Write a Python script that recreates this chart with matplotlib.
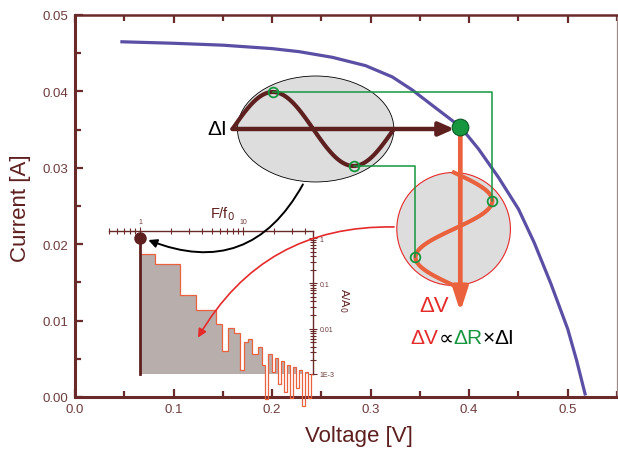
import numpy as np
import matplotlib.pyplot as plt
from matplotlib.patches import Ellipse, FancyArrowPatch
from matplotlib.ticker import NullFormatter

plt.rcParams['font.family'] = ['Liberation Sans', 'DejaVu Sans']

# I-V curve of the cell
voltage = [0.046, 0.10, 0.15, 0.20, 0.2275, 0.2612, 0.2949, 0.3219, 0.3421, 0.3623,
           0.391, 0.4095, 0.4297, 0.45, 0.466, 0.483, 0.50, 0.509, 0.518]
current = [0.0465, 0.0463, 0.04605, 0.0456, 0.0452, 0.04446, 0.04337, 0.0419, 0.0402, 0.0382,
           0.03538, 0.03246, 0.02875, 0.0246, 0.0202, 0.0148, 0.0089, 0.0048, 0.0002]
op_index = 10  # working point

# spectrum of the response, A/A0 vs F/f0
freq_edges = [1.0, 1.4, 2.45, 3.5, 5.47, 6.2, 7.2, 8.2, 9.3, 10.3,
              11.3, 12.2, 13.9, 15.2, 16.3, 17.6, 19.0, 20.5, 21.9, 23.4,
              25.0, 26.7, 28.5, 30.5, 32.6, 34.9, 37.3, 39.9, 42.6, 45.6, 47.8]
amp = [0.44, 0.27, 0.055, 0.026, 0.0126, 0.0032, 0.0102, 0.0079, 0.0012, 0.005,
       0.0058, 0.0027, 0.004, 0.0016, 0.00028, 0.0028, 0.0011, 0.0022, 0.0006, 0.0019,
       0.0004, 0.0016, 0.0003, 0.0014, 0.0005, 0.0012, 0.0002, 0.0011, 0.0003, 0.0010]
fund_freq = 1.0
fund_amp = 1.0

xticks = [0.0, 0.1, 0.2, 0.3, 0.4, 0.5]
yticks = [0.00, 0.01, 0.02, 0.03, 0.04, 0.05]

maroon = '#5e1f1f'
axcol = '#6a2a2a'
tickcol = '#6e3c3c'
green = '#16963f'
red = '#e52a2a'
orange = '#e9613d'
blue = '#5a4fa5'
grey = '#dddddd'

fig = plt.figure(figsize=(6.18, 4.52), dpi=100)
ax = fig.add_axes([75/618, 54/452, 542/618, 382/452])
ax.set_xlim(0, 0.548)
ax.set_ylim(0, 0.05)

ax.plot(voltage, current, color=blue, lw=2.3, solid_capstyle='butt', zorder=2)

ax.set_xticks(xticks)
ax.set_xticks([x + 0.05 for x in xticks], minor=True)
ax.set_yticks(yticks)
ax.set_yticks([y + 0.005 for y in yticks[:-1]], minor=True)
ax.xaxis.set_major_formatter('{x:.1f}')
ax.yaxis.set_major_formatter('{x:.2f}')
ax.tick_params(which='both', direction='in', top=True, right=False, width=1.6,
               color=axcol, labelcolor=tickcol, labelsize=9.5)
ax.tick_params(which='major', length=6)
ax.tick_params(which='minor', length=4)
ax.tick_params(axis='y', pad=5)
ax.tick_params(axis='x', pad=4)
for s in ['left', 'bottom']:
    ax.spines[s].set_linewidth(2.2)
    ax.spines[s].set_color(axcol)
ax.spines['top'].set_linewidth(1.8)
ax.spines['top'].set_color(axcol)
ax.spines['right'].set_linewidth(0.9)
ax.spines['right'].set_color('#a08a8a')

fig.text(359/618, 1 - 437/452, 'Voltage [V]', ha='center', va='center',
         fontsize=16, color=maroon)
fig.text(21/618, 1 - 208/452, 'Current [A]', ha='center', va='center',
         rotation=90, fontsize=16, color=maroon)

# ---- current modulation (ellipse) ----
ex, ey, ew, eh = 0.2442, 0.03508, 0.1587, 0.01387
ax.add_patch(Ellipse((ex, ey), ew, eh, fc=grey, ec='black', lw=0.6, zorder=3))
t = np.linspace(0, 1, 120)
s_x0, s_len, s_amp = 0.1598, 0.1638, 0.00484
sx = s_x0 + s_len * t
sy = ey + s_amp * np.sin(2 * np.pi * t)
ax.plot(sx, sy, color=maroon, lw=3, zorder=4, solid_capstyle='round')

vop, iop = voltage[op_index], current[op_index]
ax.annotate('', xy=(vop - 0.006, ey), xytext=(s_x0, ey),
            arrowprops=dict(arrowstyle='-|>,head_length=0.9,head_width=0.4',
                            mutation_scale=10, lw=3.2, color=maroon,
                            shrinkA=0, shrinkB=0), zorder=5)
ax.text(s_x0 - 0.005, ey, 'ΔI', ha='right', va='center', fontsize=15, color='black')

# ---- voltage response (circle) ----
cx, cy, cw, ch = 0.3842, 0.02199, 0.1153, 0.01479
ax.add_patch(Ellipse((cx, cy), cw, ch, fc=grey, ec=red, lw=0.8, zorder=3))
v_top, v_len, v_amp, v_x0 = cy + ch / 2, ch, 0.039, 0.3845
vy = v_top - v_len * t
vx = v_x0 + v_amp * np.sin(2 * np.pi * t)
ax.plot(vx, vy, color=orange, lw=3, zorder=4)

ax.annotate('', xy=(vop, 0.01113), xytext=(vop, iop),
            arrowprops=dict(arrowstyle='-|>,head_length=1.4,head_width=0.45',
                            mutation_scale=10, lw=3.4, color=orange,
                            shrinkA=0, shrinkB=0), zorder=5)

# green guide lines between the two sines
peak = (s_x0 + s_len * 0.25, ey + s_amp)
trough = (s_x0 + s_len * 0.75, ey - s_amp)
right_pt = (v_x0 + v_amp, v_top - v_len * 0.25)
left_pt = (v_x0 - v_amp, v_top - v_len * 0.75)
ax.plot([peak[0], right_pt[0], right_pt[0]], [peak[1], peak[1], right_pt[1]],
        color=green, lw=1.1, zorder=6)
ax.plot([trough[0], left_pt[0], left_pt[0]], [trough[1], trough[1], left_pt[1]],
        color=green, lw=1.1, zorder=6)
for p in [peak, trough, right_pt, left_pt]:
    ax.plot(p[0], p[1], 'o', ms=7, mfc='none', mec=green, mew=1.3, zorder=7)
ax.plot(vop, iop, 'o', ms=12, mfc=green, mec='#0b5a26', mew=0.8, zorder=8)

ax.text(0.364, 0.01204, 'ΔV', ha='center', va='center', fontsize=16, color=red)
parts = [('ΔV', red), ('∝', 'black'), ('ΔR', green), ('×', 'black'), ('ΔI', 'black')]
tt = ax.text(0.3407, 0.0065, parts[0][0], ha='left', va='bottom', fontsize=15,
             color=parts[0][1])
for s, c in parts[1:]:
    tt = ax.annotate(s, xy=(1, 0), xycoords=tt, ha='left', va='bottom',
                     fontsize=15, color=c)

# ---- spectrum inset ----
axin = fig.add_axes([109/618, 77/452, 204/618, 143/452])
axin.set_xscale('log')
axin.set_yscale('log')
axin.set_xlim(0.5, 47.8)
axin.set_ylim(1e-3, 1.43)
axin.patch.set_visible(False)
axin.spines['left'].set_visible(False)
axin.spines['bottom'].set_visible(False)
for s in ['top', 'right']:
    axin.spines[s].set_color(axcol)
    axin.spines[s].set_linewidth(1.0)
axin.xaxis.tick_top()
axin.yaxis.tick_right()
axin.set_xticks([1, 10])
axin.set_xticklabels(['1', '10'])
axin.set_yticks([1, 0.1, 0.01, 1e-3])
axin.set_yticklabels(['1', '0.1', '0.01', '1E-3'])
axin.xaxis.set_minor_formatter(NullFormatter())
axin.yaxis.set_minor_formatter(NullFormatter())
axin.tick_params(which='both', direction='inout', color=axcol, width=0.8,
                 labelcolor=tickcol, labelsize=5, pad=1.5)
axin.tick_params(which='major', length=6)
axin.tick_params(which='minor', length=4)

fill_amp = np.maximum(amp, 1e-3)
axin.stairs(fill_amp, freq_edges, baseline=1e-3, fill=True, color='#b8aeab', zorder=1)
st = axin.stairs(amp, freq_edges, baseline=None, color=orange, lw=0.9, zorder=2)
st.set_clip_on(False)
axin.plot([fund_freq, fund_freq], [1e-3, fund_amp], color=maroon, lw=2, zorder=3,
          clip_on=False)
axin.plot(fund_freq, fund_amp, 'o', ms=8, color=maroon, zorder=4, clip_on=False)

fig.text(210/618, 1 - 214/452, 'F/f$_0$', ha='left', va='center', fontsize=10.5,
         color=maroon)
fig.text(344/618, 1 - 300/452, 'A/A$_0$', ha='center', va='center', rotation=270,
         fontsize=8, color=maroon)

# ---- curved arrows linking the pieces ----
fig.add_artist(FancyArrowPatch((0.2326, 0.02814), (0.0718, 0.02068),
                               transform=ax.transData,
                               connectionstyle='arc3,rad=-0.45',
                               arrowstyle='-|>,head_length=5,head_width=2.5',
                               color='black', lw=1.4, zorder=5))
fig.add_artist(FancyArrowPatch((0.3266, 0.02225), (0.1234, 0.00746),
                               transform=ax.transData,
                               connectionstyle='arc3,rad=0.3',
                               arrowstyle='-|>,head_length=5,head_width=2.5',
                               color=red, lw=1.2, zorder=5))

fig.savefig('out.png', dpi=100)
